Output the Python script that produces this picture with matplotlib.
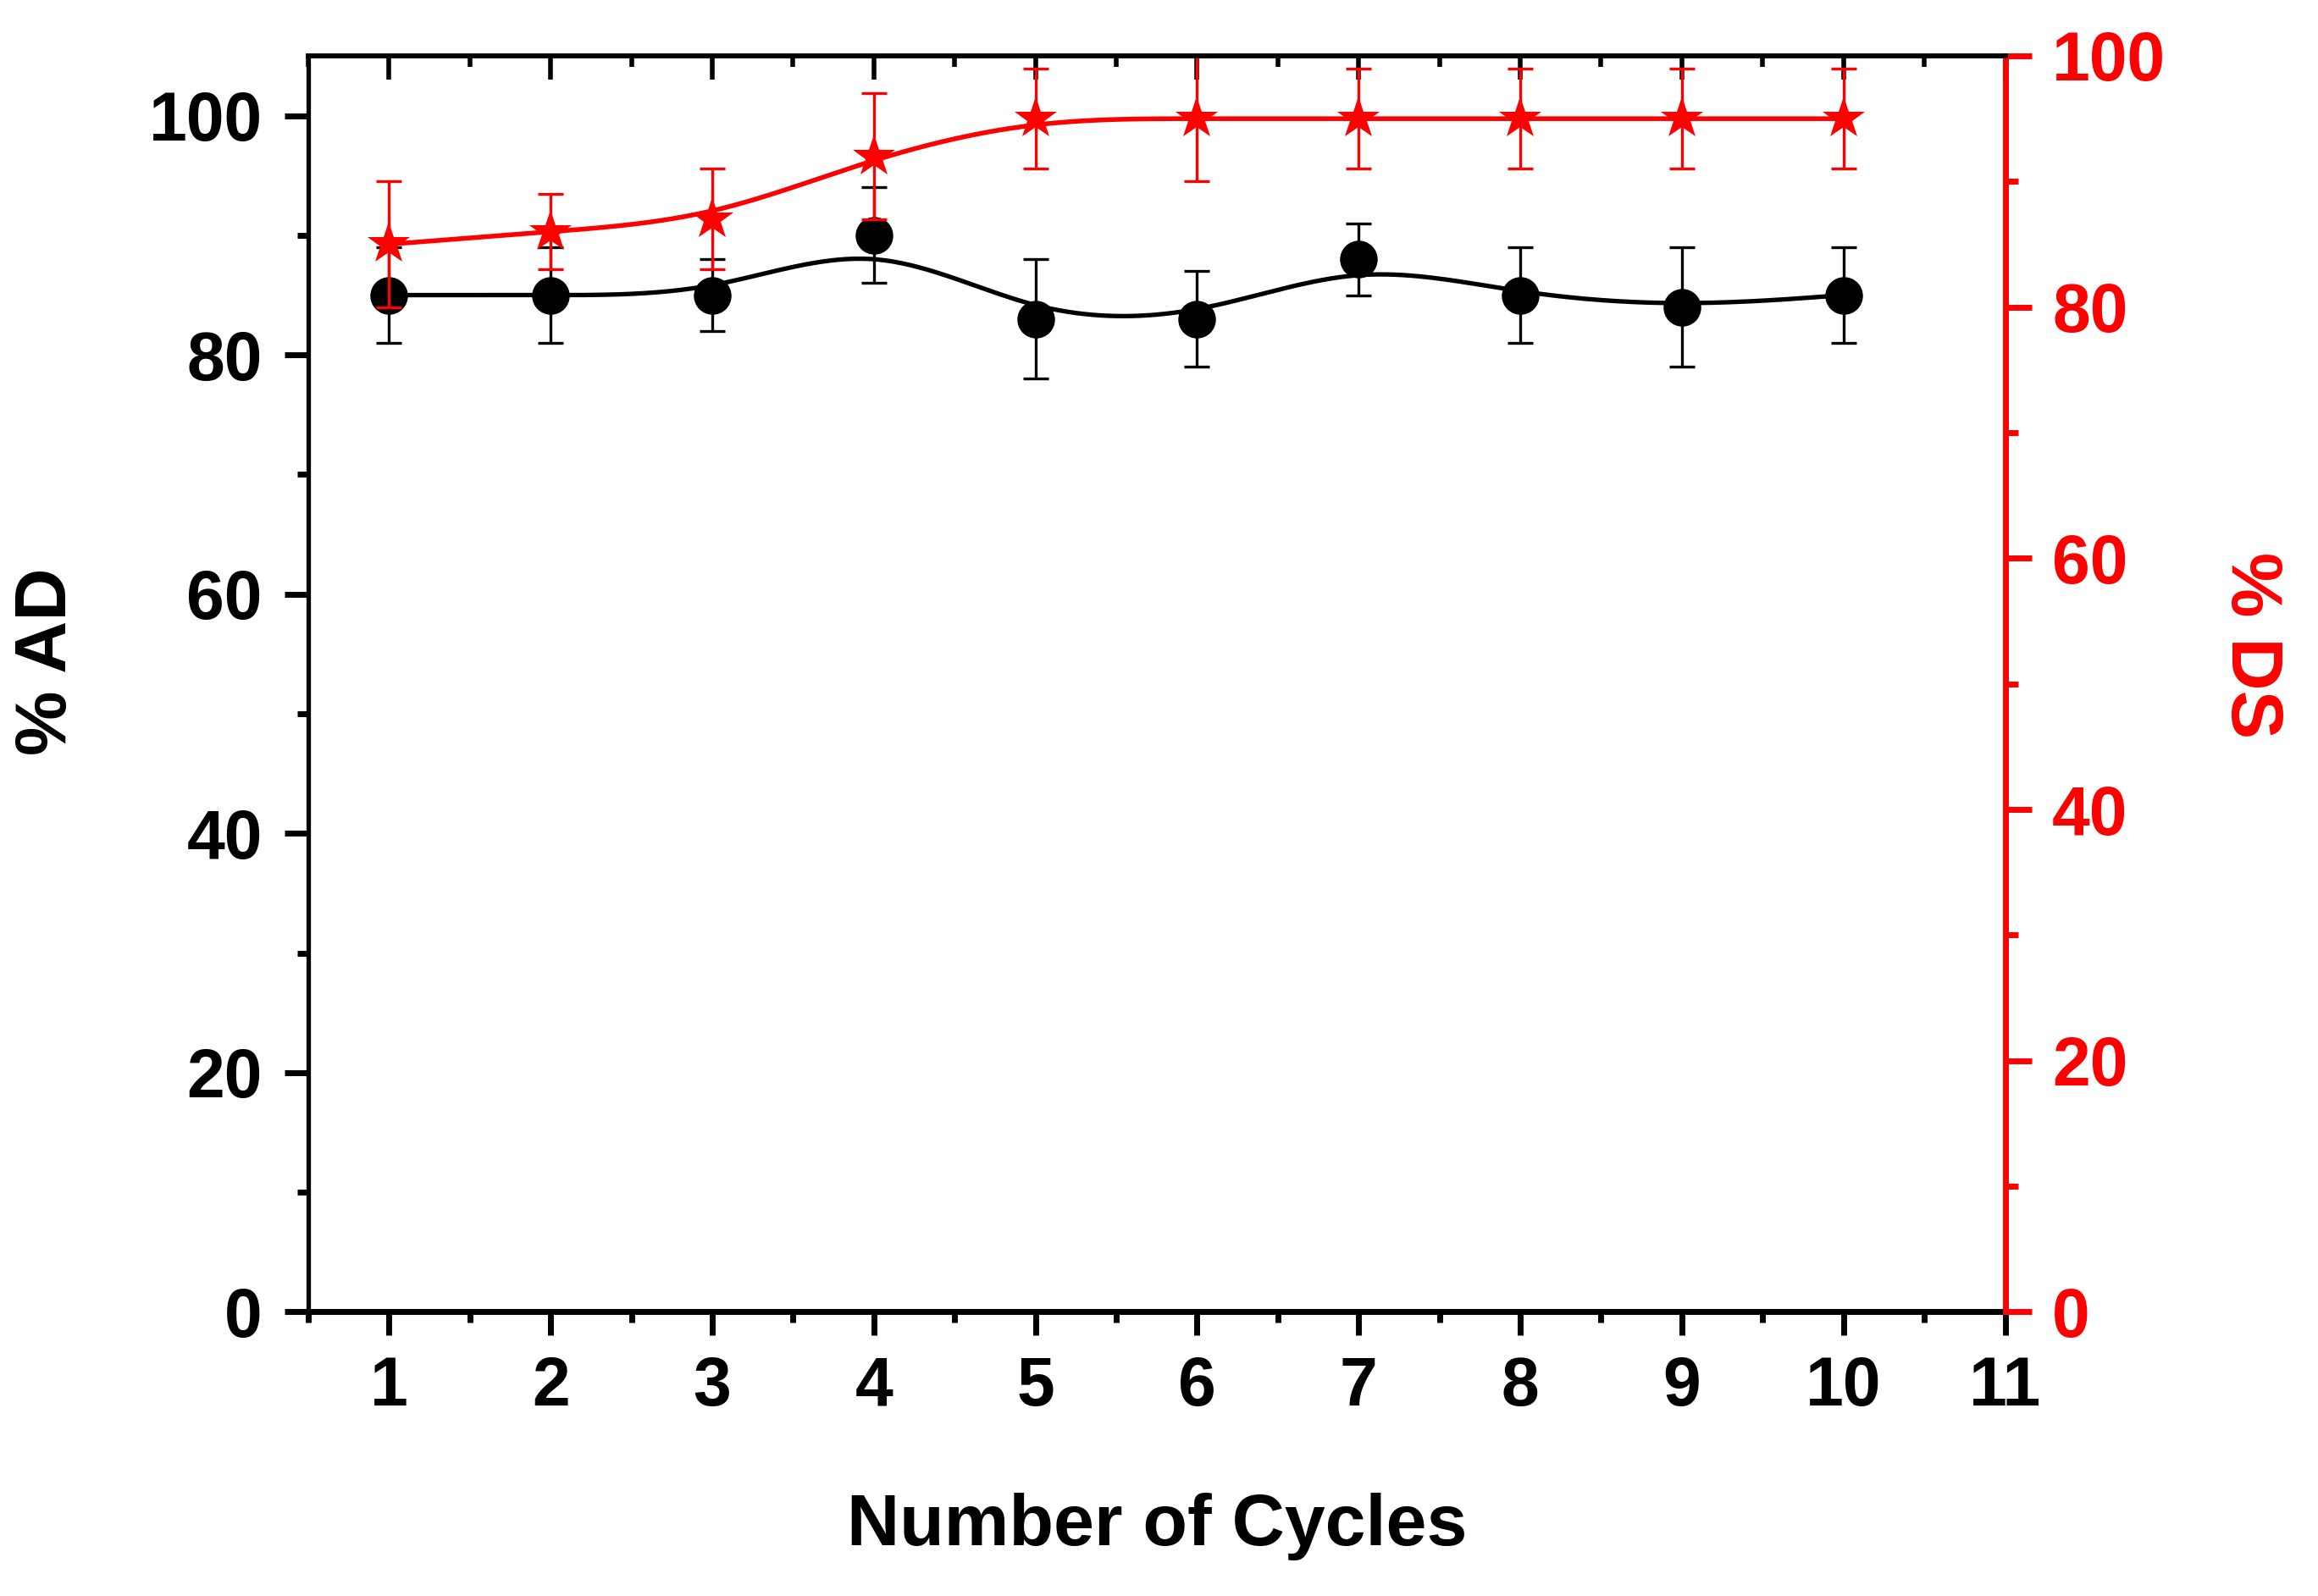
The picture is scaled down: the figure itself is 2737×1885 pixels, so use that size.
#!/usr/bin/env python3
"""Reusability of the material over repeated cycles: % AD and % DS."""

import numpy as np
import matplotlib

matplotlib.use("Agg")
import matplotlib.pyplot as plt
from matplotlib.ticker import MultipleLocator


cycles = [1, 2, 3, 4, 5, 6, 7, 8, 9, 10]
ad_mean = [85, 85, 85, 90, 83, 83, 88, 85, 84, 85]
ad_err = [4, 4, 3, 4, 5, 4, 3, 4, 5, 4]
ds_mean = [85, 86, 87, 92, 95, 95, 95, 95, 95, 95]
ds_err = [5, 3, 4, 5, 4, 5, 4, 4, 4, 4]

x_ticks = [1, 2, 3, 4, 5, 6, 7, 8, 9, 10, 11]
y_ticks = [0, 20, 40, 60, 80, 100]

RED = "#FF0000"
TICK_FS = 58
LABEL_FS = 62

plt.rcParams["font.family"] = ["Liberation Sans", "DejaVu Sans"]
plt.rcParams["font.weight"] = "bold"


def bspline(xs, ys, samples=40):
    """Uniform cubic B-spline using the points as control points (ends clamped)."""
    px = np.concatenate([[xs[0]] * 2, xs, [xs[-1]] * 2]).astype(float)
    py = np.concatenate([[ys[0]] * 2, ys, [ys[-1]] * 2]).astype(float)
    t = np.linspace(0, 1, samples, endpoint=False)
    b0 = (1 - t) ** 3 / 6
    b1 = (3 * t ** 3 - 6 * t ** 2 + 4) / 6
    b2 = (-3 * t ** 3 + 3 * t ** 2 + 3 * t + 1) / 6
    b3 = t ** 3 / 6
    out_x, out_y = [], []
    for j in range(len(px) - 3):
        out_x.append(b0 * px[j] + b1 * px[j + 1] + b2 * px[j + 2] + b3 * px[j + 3])
        out_y.append(b0 * py[j] + b1 * py[j + 1] + b2 * py[j + 2] + b3 * py[j + 3])
    out_x.append([xs[-1]])
    out_y.append([ys[-1]])
    return np.concatenate(out_x), np.concatenate(out_y)


fig = plt.figure(figsize=(27.37, 18.85), dpi=100)
ax = fig.add_axes([0.133, 0.178, 0.732, 0.787])
ax2 = ax.twinx()

# black series: % AD on the left axis
ax.errorbar(cycles, ad_mean, yerr=ad_err, fmt="none", ecolor="black",
            elinewidth=2.4, capsize=11, capthick=2.4, zorder=2)
sx, sy = bspline(cycles, ad_mean)
ax.plot(sx, sy, color="black", linewidth=3.8, zorder=3)
ax.plot(cycles, ad_mean, "o", color="black", markersize=31, zorder=4)

# red series: % DS on the right axis
ax2.errorbar(cycles, ds_mean, yerr=ds_err, fmt="none", ecolor=RED,
             elinewidth=2.4, capsize=11, capthick=2.4, zorder=2)
sx, sy = bspline(cycles, ds_mean)
ax2.plot(sx, sy, color=RED, linewidth=4.0, zorder=3)
ax2.plot(cycles, ds_mean, "*", color=RED, markersize=38, markeredgewidth=0, zorder=4)

ax.set_xlim(0.5, 11)
ax.set_ylim(0, 105)
ax2.set_ylim(0, 100)

ax.set_xticks(x_ticks)
ax.xaxis.set_minor_locator(MultipleLocator(0.5))
ax.set_yticks(y_ticks)
ax.yaxis.set_minor_locator(MultipleLocator(10))
ax2.set_yticks(y_ticks)
ax2.yaxis.set_minor_locator(MultipleLocator(10))

ax.tick_params(axis="x", which="both", bottom=True, top=False, direction="out",
               width=5, labelsize=TICK_FS, pad=17)
ax.tick_params(axis="x", which="major", length=20)
ax.tick_params(axis="x", which="minor", length=9.4)
ax.tick_params(axis="y", which="both", left=True, right=False, direction="out",
               width=5, labelsize=TICK_FS, pad=19)
ax.tick_params(axis="y", which="major", length=20)
ax.tick_params(axis="y", which="minor", length=9.4)

# top ticks live on the twin so they sit above the red data
ax2.xaxis.set_visible(True)
ax2.tick_params(axis="x", which="both", bottom=False, top=True, labelbottom=False,
                labeltop=False, direction="in", width=4, color="black")
ax2.tick_params(axis="x", which="major", length=20)
ax2.tick_params(axis="x", which="minor", length=9.4)
ax2.tick_params(axis="y", which="both", direction="out", width=5, color=RED,
                labelcolor=RED, labelsize=TICK_FS, pad=18)
ax2.tick_params(axis="y", which="major", length=22)
ax2.tick_params(axis="y", which="minor", length=11)

ax.spines["left"].set_linewidth(3.8)
ax.spines["bottom"].set_linewidth(5)
ax.spines["top"].set_visible(False)
ax.spines["right"].set_visible(False)
ax2.spines["left"].set_visible(False)
ax2.spines["bottom"].set_visible(False)
ax2.spines["top"].set_linewidth(4.2)
ax2.spines["right"].set_linewidth(5)
ax2.spines["right"].set_color(RED)

for label in ax.get_xticklabels() + ax.get_yticklabels() + ax2.get_yticklabels():
    label.set_fontweight("bold")

fig.text(0.4991, 0.0318, "Number of Cycles", ha="center", va="baseline",
         fontsize=LABEL_FS, fontweight="bold")
fig.text(0.0205, 0.5857, "% AD", ha="center", va="center", rotation=90,
         fontsize=LABEL_FS, fontweight="bold")
fig.text(0.9708, 0.5958, "% DS", ha="center", va="center", rotation=270,
         fontsize=LABEL_FS, fontweight="bold", color=RED)

fig.savefig("out.png", dpi=100)
